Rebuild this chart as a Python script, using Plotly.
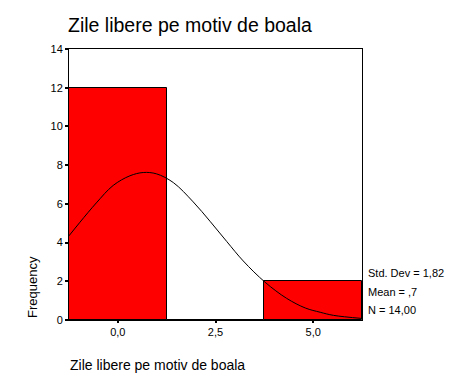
import plotly.graph_objects as go

# Histogram data
bin_centers = [0.0, 2.5, 5.0]
bin_counts = [12, 0, 2]
bin_width = 2.5

# Normal curve
curve_x = [-1.25, -0.97, -0.55, -0.12, 0.31, 0.65, 0.99, 1.42, 1.93, 2.36, 2.79, 3.21, 3.77, 4.32, 4.80, 5.18, 5.52, 6.25]
curve_y = [4.35, 5.05, 6.05, 6.95, 7.45, 7.62, 7.55, 7.10, 6.10, 5.10, 4.05, 3.05, 1.95, 1.12, 0.62, 0.40, 0.24, 0.08]

x_tickvals = [0.0, 2.5, 5.0]
x_ticktext = ["0,0", "2,5", "5,0"]
y_tickvals = [0, 2, 4, 6, 8, 10, 12, 14]

stats_lines = ["Std. Dev = 1,82", "Mean = ,7", "N = 14,00"]
title_text = "Zile libere pe motiv de boala"
xlabel_text = "Zile libere pe motiv de boala"
ylabel_text = "Frequency"

W, H = 476, 381
FONT = "Liberation Sans, Arial, sans-serif"

fig = go.Figure()
fig.add_trace(go.Bar(x=bin_centers, y=bin_counts, width=bin_width,
                     marker=dict(color="#FF0000", line=dict(color="black", width=1)),
                     showlegend=False, hoverinfo="skip"))
fig.add_trace(go.Scatter(x=curve_x, y=curve_y, mode="lines",
                         line=dict(color="black", width=1, shape="spline", smoothing=1),
                         showlegend=False, hoverinfo="skip"))

ml, mr, mt, mb = 69, 114, 49, 61
fig.update_layout(
    width=W, height=H,
    margin=dict(l=ml, r=mr, t=mt, b=mb, pad=0),
    paper_bgcolor="white", plot_bgcolor="white",
    font=dict(family=FONT, color="black", size=11),
    bargap=0,
    title=dict(text=title_text, x=68 / W, xanchor="left", xref="container",
               y=1 - 25 / H, yanchor="middle", yref="container",
               font=dict(size=19.5, family=FONT, color="black")),
)
fig.update_xaxes(range=[-1.25, 6.25], tickvals=x_tickvals, ticktext=x_ticktext,
                 showgrid=False, zeroline=False, showline=True, linecolor="black", linewidth=1,
                 mirror=True, ticks="outside", ticklen=2, tickwidth=2, tickcolor="black",
                 tickfont=dict(size=11, family=FONT, color="black"))
fig.update_yaxes(range=[0, 14], tickvals=y_tickvals,
                 showgrid=False, zeroline=False, showline=True, linecolor="black", linewidth=1,
                 mirror=True, ticks="outside", ticklen=3, tickwidth=2, tickcolor="black",
                 tickfont=dict(size=11, family=FONT, color="black"))

# Y axis label
fig.add_annotation(text=ylabel_text, xref="paper", yref="paper",
                   x=(32 - ml) / (W - ml - mr), y=(H - mb - 287) / (H - mt - mb),
                   textangle=-90, showarrow=False, xanchor="center", yanchor="middle",
                   font=dict(size=13, family=FONT, color="black"))
# X axis label
fig.add_annotation(text=xlabel_text, xref="paper", yref="paper",
                   x=(68 - ml) / (W - ml - mr), y=-(365 - (H - mb)) / (H - mt - mb),
                   showarrow=False, xanchor="left", yanchor="middle",
                   font=dict(size=14, family=FONT, color="black"))
# Stats
for txt, yy in zip(stats_lines, [273, 292, 310]):
    fig.add_annotation(text=txt, xref="paper", yref="paper",
                       x=(366 - ml) / (W - ml - mr), y=(H - mb - yy) / (H - mt - mb),
                       showarrow=False, xanchor="left", yanchor="middle",
                       font=dict(size=11, family=FONT, color="black"))

fig.write_html("out.html")
